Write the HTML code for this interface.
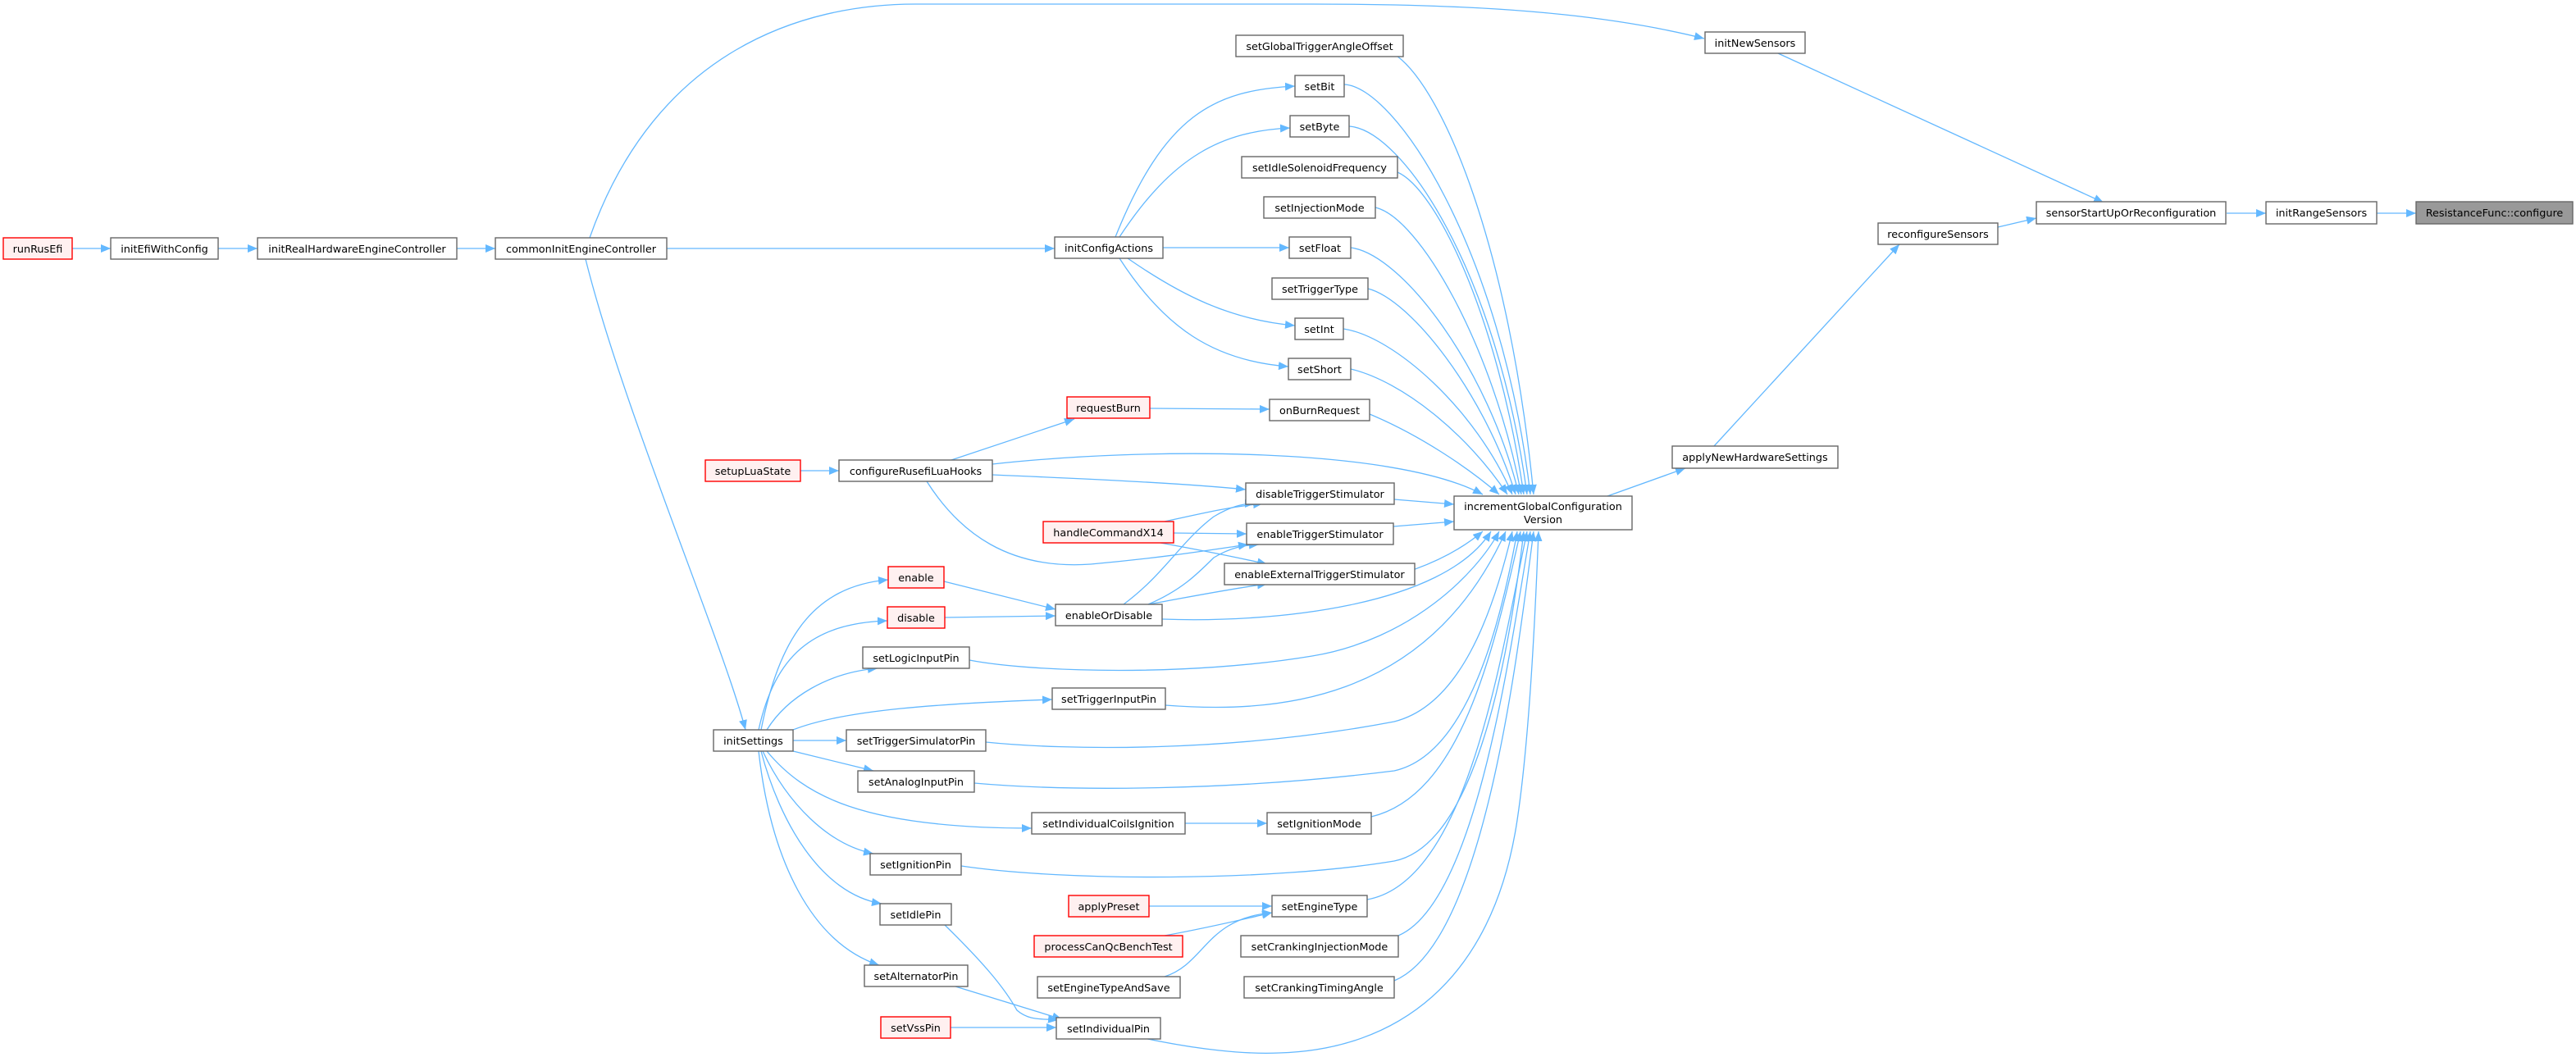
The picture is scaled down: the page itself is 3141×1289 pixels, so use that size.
<!DOCTYPE html>
<html><head><meta charset="utf-8"><style>
html,body{margin:0;padding:0;background:#fff;}
svg{display:block;}
text{font-family:"DejaVu Sans","Liberation Sans",sans-serif;font-size:12.8px;fill:#000;text-anchor:middle;}
.n{fill:#fff;stroke:#666;stroke-width:1.4;}
.r{fill:#fff0f0;stroke:#ff0000;stroke-width:1.4;}
.g{fill:#999;stroke:#666;stroke-width:1.4;}
path.e{fill:none;stroke:#63b8ff;stroke-width:1.3;marker-end:url(#a);}
</style></head><body>
<svg width="3141" height="1289" viewBox="0 0 3141 1289" xmlns="http://www.w3.org/2000/svg">
<defs><marker id="a" markerUnits="userSpaceOnUse" markerWidth="12" markerHeight="10" refX="12" refY="5" orient="auto"><path d="M0,0 L12,5 L0,10 z" fill="#63b8ff"/></marker></defs>

<!-- edges -->
<path class="e" d="M88,303 L135,303"/>
<path class="e" d="M266,303 L314,303"/>
<path class="e" d="M557,303 L604,303"/>
<path class="e" d="M813,303 L1286,303"/>
<path class="e" d="M719,290 C800,60 980,5 1116,5 L1600,5 C1800,5 1950,15 2078,47"/>
<path class="e" d="M714,316 C760,500 880,780 909,890"/>
<path class="e" d="M1360,289 C1420,140 1480,110 1579,105"/>
<path class="e" d="M1365,289 C1430,190 1490,160 1573,156"/>
<path class="e" d="M1418,302 L1572,302"/>
<path class="e" d="M1375,315 C1440,360 1500,390 1579,397"/>
<path class="e" d="M1365,315 C1420,400 1480,440 1571,447"/>
<path class="e" d="M976,574 L1023,574"/>
<path class="e" d="M1160,561 L1310,511"/>
<path class="e" d="M1402,498 L1548,499"/>
<path class="e" d="M1210,579 C1350,585 1450,590 1519,597"/>
<path class="e" d="M1130,587 C1170,650 1230,695 1330,688 C1420,680 1480,670 1522,664"/>
<path class="e" d="M1210,566 C1400,545 1700,545 1808,603"/>
<path class="e" d="M1420,636 C1470,625 1500,618 1540,614"/>
<path class="e" d="M1431,650 L1520,651"/>
<path class="e" d="M1415,662 C1470,672 1510,680 1545,688"/>
<path class="e" d="M1151,709 L1287,743"/>
<path class="e" d="M1152,753 L1287,751"/>
<path class="e" d="M1370,737 C1420,700 1440,660 1480,630 C1500,618 1515,614 1530,614"/>
<path class="e" d="M1400,737 C1440,720 1460,700 1480,680 C1500,668 1515,665 1535,664"/>
<path class="e" d="M1400,737 C1450,728 1500,718 1545,712"/>
<path class="e" d="M928,890 C950,780 990,715 1083,707"/>
<path class="e" d="M925,890 C945,800 990,760 1082,757"/>
<path class="e" d="M935,890 C960,850 1010,820 1070,815"/>
<path class="e" d="M967,890 C1030,865 1150,858 1283,853"/>
<path class="e" d="M967,903 L1032,903"/>
<path class="e" d="M967,916 L1065,940"/>
<path class="e" d="M935,916 C980,970 1050,1010 1258,1010"/>
<path class="e" d="M930,916 C960,980 1010,1030 1065,1041"/>
<path class="e" d="M928,916 C950,1000 1000,1090 1075,1102"/>
<path class="e" d="M925,916 C940,1050 990,1150 1072,1177"/>
<path class="e" d="M1152,1128 C1200,1175 1225,1205 1240,1232 C1255,1245 1270,1242 1290,1244"/>
<path class="e" d="M1165,1203 L1295,1243"/>
<path class="e" d="M1159,1253 L1288,1253"/>
<path class="e" d="M1445,1004 L1545,1004"/>
<path class="e" d="M1401,1105 L1551,1105"/>
<path class="e" d="M1420,1141 C1480,1130 1520,1120 1551,1113"/>
<path class="e" d="M1420,1191 C1470,1175 1470,1120 1551,1113"/>
<!-- into increment from top -->
<path class="e" d="M1703,68 C1760,110 1840,300 1870,603"/>
<path class="e" d="M1639,103 C1700,105 1830,300 1866,603"/>
<path class="e" d="M1645,154 C1710,158 1825,330 1862,603"/>
<path class="e" d="M1704,210 C1750,230 1825,380 1858,603"/>
<path class="e" d="M1677,253 C1730,265 1820,420 1855,603"/>
<path class="e" d="M1647,302 C1710,310 1815,450 1852,603"/>
<path class="e" d="M1668,352 C1720,365 1810,480 1848,603"/>
<path class="e" d="M1638,401 C1700,410 1800,500 1844,603"/>
<path class="e" d="M1647,450 C1710,465 1790,530 1838,603"/>
<path class="e" d="M1670,505 C1730,530 1790,570 1828,603"/>
<path class="e" d="M1700,609 L1773,615"/>
<path class="e" d="M1699,642 L1773,636"/>
<!-- into increment from bottom -->
<path class="e" d="M1660,712 C1720,700 1770,680 1808,648"/>
<path class="e" d="M1417,755 C1550,760 1760,740 1818,648"/>
<path class="e" d="M1182,805 C1260,820 1450,825 1600,800 C1720,780 1800,700 1828,648"/>
<path class="e" d="M1421,860 C1550,870 1740,860 1836,648"/>
<path class="e" d="M1202,905 C1300,915 1500,918 1700,880 C1780,860 1820,750 1844,648"/>
<path class="e" d="M1188,955 C1300,965 1500,965 1700,940 C1790,920 1830,760 1850,648"/>
<path class="e" d="M1672,996 C1780,970 1820,800 1854,648"/>
<path class="e" d="M1172,1056 C1300,1075 1550,1075 1700,1050 C1800,1030 1840,800 1858,648"/>
<path class="e" d="M1667,1097 C1790,1075 1830,800 1862,648"/>
<path class="e" d="M1705,1141 C1800,1100 1840,800 1866,648"/>
<path class="e" d="M1700,1196 C1810,1150 1850,800 1870,648"/>
<path class="e" d="M1395,1266 C1460,1280 1520,1286 1560,1284 C1700,1280 1820,1200 1850,1000 C1865,900 1872,750 1876,648"/>
<!-- right side -->
<path class="e" d="M1960,605 L2055,571"/>
<path class="e" d="M2090,544 L2316,298"/>
<path class="e" d="M2436,277 L2483,266"/>
<path class="e" d="M2168,65 L2565,247"/>
<path class="e" d="M2715,260 L2763,260"/>
<path class="e" d="M2898,260 L2946,260"/>

<!-- nodes -->
<g>
<rect class="r" x="4" y="290" width="84" height="26"/><text x="46" y="308">runRusEfi</text>
<rect class="n" x="135" y="290" width="131" height="26"/><text x="200.5" y="308">initEfiWithConfig</text>
<rect class="n" x="314" y="290" width="243" height="26"/><text x="435.5" y="308">initRealHardwareEngineController</text>
<rect class="n" x="604" y="290" width="209" height="26"/><text x="708.5" y="308">commonInitEngineController</text>
<rect class="n" x="1286" y="289" width="132" height="26"/><text x="1352" y="307">initConfigActions</text>
<rect class="r" x="860" y="561" width="116" height="26"/><text x="918" y="579">setupLuaState</text>
<rect class="n" x="1023" y="561" width="187" height="26"/><text x="1116.5" y="579">configureRusefiLuaHooks</text>
<rect class="r" x="1301" y="484" width="101" height="26"/><text x="1351.5" y="502">requestBurn</text>
<rect class="r" x="1272" y="636" width="159" height="26"/><text x="1351.5" y="654">handleCommandX14</text>
<rect class="r" x="1083" y="691" width="68" height="26"/><text x="1117" y="709">enable</text>
<rect class="r" x="1082" y="740" width="70" height="26"/><text x="1117" y="758">disable</text>
<rect class="n" x="1052" y="789" width="130" height="26"/><text x="1117" y="807">setLogicInputPin</text>
<rect class="n" x="870" y="890" width="97" height="26"/><text x="918.5" y="908">initSettings</text>
<rect class="n" x="1032" y="890" width="170" height="26"/><text x="1117" y="908">setTriggerSimulatorPin</text>
<rect class="n" x="1046" y="940" width="142" height="26"/><text x="1117" y="958">setAnalogInputPin</text>
<rect class="n" x="1061" y="1041" width="111" height="26"/><text x="1116.5" y="1059">setIgnitionPin</text>
<rect class="n" x="1073" y="1102" width="87" height="26"/><text x="1116.5" y="1120">setIdlePin</text>
<rect class="n" x="1054" y="1177" width="126" height="26"/><text x="1117" y="1195">setAlternatorPin</text>
<rect class="r" x="1074" y="1240" width="85" height="26"/><text x="1116.5" y="1258">setVssPin</text>
<rect class="n" x="1287" y="737" width="130" height="26"/><text x="1352" y="755">enableOrDisable</text>
<rect class="n" x="1283" y="839" width="138" height="26"/><text x="1352" y="857">setTriggerInputPin</text>
<rect class="n" x="1258" y="991" width="187" height="26"/><text x="1351.5" y="1009">setIndividualCoilsIgnition</text>
<rect class="r" x="1303" y="1092" width="98" height="26"/><text x="1352" y="1110">applyPreset</text>
<rect class="r" x="1261" y="1141" width="181" height="26"/><text x="1351.5" y="1159">processCanQcBenchTest</text>
<rect class="n" x="1265" y="1191" width="174" height="26"/><text x="1352" y="1209">setEngineTypeAndSave</text>
<rect class="n" x="1288" y="1241" width="127" height="26"/><text x="1351.5" y="1259">setIndividualPin</text>

<rect class="n" x="1507" y="43" width="204" height="26"/><text x="1609" y="61">setGlobalTriggerAngleOffset</text>
<rect class="n" x="1579" y="92" width="60" height="26"/><text x="1609" y="110">setBit</text>
<rect class="n" x="1573" y="141" width="72" height="26"/><text x="1609" y="159">setByte</text>
<rect class="n" x="1514" y="191" width="190" height="26"/><text x="1609" y="209">setIdleSolenoidFrequency</text>
<rect class="n" x="1541" y="240" width="136" height="26"/><text x="1609" y="258">setInjectionMode</text>
<rect class="n" x="1572" y="289" width="75" height="26"/><text x="1609.5" y="307">setFloat</text>
<rect class="n" x="1551" y="339" width="117" height="26"/><text x="1609.5" y="357">setTriggerType</text>
<rect class="n" x="1579" y="388" width="59" height="26"/><text x="1608.5" y="406">setInt</text>
<rect class="n" x="1571" y="437" width="76" height="26"/><text x="1609" y="455">setShort</text>
<rect class="n" x="1548" y="487" width="122" height="26"/><text x="1609" y="505">onBurnRequest</text>
<rect class="n" x="1519" y="589" width="181" height="26"/><text x="1609.5" y="607">disableTriggerStimulator</text>
<rect class="n" x="1520" y="638" width="179" height="26"/><text x="1609.5" y="656">enableTriggerStimulator</text>
<rect class="n" x="1493" y="687" width="232" height="26"/><text x="1609" y="705">enableExternalTriggerStimulator</text>
<rect class="n" x="1545" y="991" width="127" height="26"/><text x="1608.5" y="1009">setIgnitionMode</text>
<rect class="n" x="1551" y="1092" width="116" height="26"/><text x="1609" y="1110">setEngineType</text>
<rect class="n" x="1513" y="1141" width="192" height="26"/><text x="1609" y="1159">setCrankingInjectionMode</text>
<rect class="n" x="1517" y="1191" width="183" height="26"/><text x="1608.5" y="1209">setCrankingTimingAngle</text>

<rect class="n" x="1773" y="605" width="217" height="41"/><text x="1881.5" y="622">incrementGlobalConfiguration</text><text x="1881.5" y="638">Version</text>
<rect class="n" x="2039" y="544" width="202" height="27"/><text x="2140" y="562">applyNewHardwareSettings</text>
<rect class="n" x="2079" y="39" width="122" height="26"/><text x="2140" y="57">initNewSensors</text>
<rect class="n" x="2290" y="272" width="146" height="26"/><text x="2363" y="290">reconfigureSensors</text>
<rect class="n" x="2483" y="246" width="231" height="27"/><text x="2598.5" y="264">sensorStartUpOrReconfiguration</text>
<rect class="n" x="2763" y="246" width="135" height="27"/><text x="2830.5" y="264">initRangeSensors</text>
<rect class="g" x="2946" y="246" width="191" height="27"/><text x="3041.5" y="264">ResistanceFunc::configure</text>
</g>
</svg>
</body></html>
